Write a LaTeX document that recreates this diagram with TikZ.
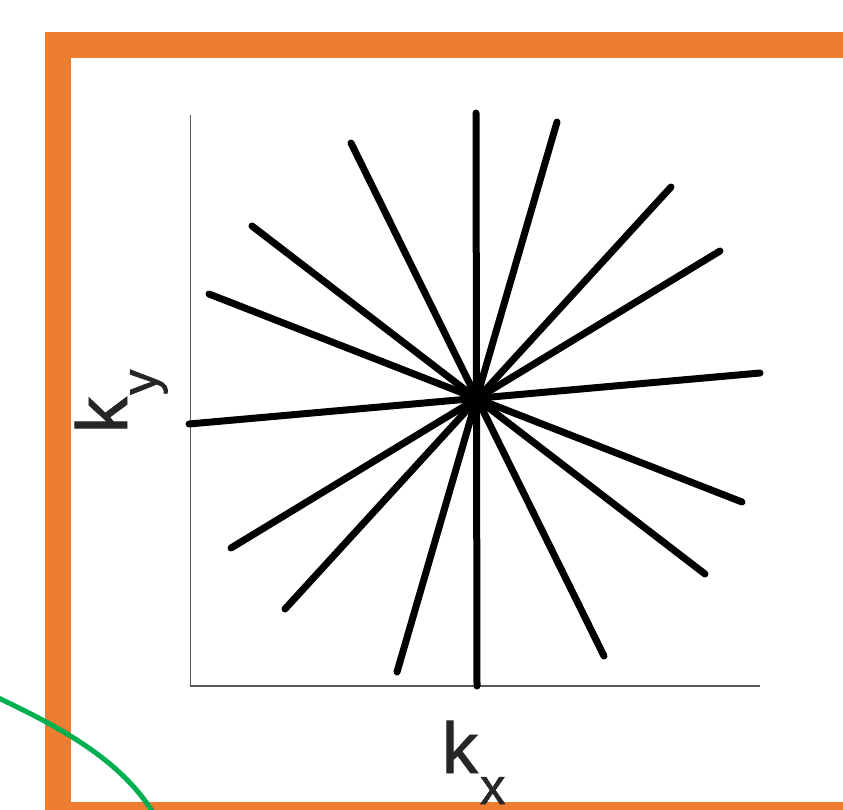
\documentclass[tikz,border=0pt]{standalone}
\usepackage{fontspec}
\setmainfont{Liberation Sans}
\newfontfamily\lblfont[FakeBold=1.2]{Liberation Sans}
\definecolor{frameorange}{HTML}{ED7D31}
\definecolor{curvegreen}{HTML}{00B050}
\definecolor{labelgray}{HTML}{262626}
\begin{document}
\begin{tikzpicture}[x=1pt,y=-1pt,
  spoke/.style={line width=7pt,line cap=round,black},
  axisline/.style={line width=1.6pt,color=black!65},
  lbl/.style={inner sep=0pt,outer sep=0pt,text=labelgray},
  bigfont/.style={font=\lblfont\fontsize{72}{72}\selectfont},
  subfont/.style={font=\lblfont\fontsize{51}{51}\selectfont}]
\useasboundingbox (0,0) rectangle (843,809);
\clip (0,0) rectangle (843,809);
% orange frame
\fill[frameorange] (45,32) rectangle (860,830);
\fill[white] (71,58) rectangle (860,802);
% green curve
\draw[curvegreen,line width=5pt] (-10,694) .. controls (60,727) and (128,762) .. (160,825);
% axes
\coordinate (ytop) at (190.5,115);
\coordinate (orig) at (190.5,686);
\coordinate (xend) at (760,686);
\draw[axisline] (ytop) -- (orig) -- (xend);
% spokes
\coordinate (a1) at (476,113); \coordinate (b1) at (477,686);
\coordinate (a2) at (557,122); \coordinate (b2) at (397,672);
\coordinate (a3) at (671,187); \coordinate (b3) at (285,609);
\coordinate (a4) at (720,251); \coordinate (b4) at (231,548);
\coordinate (a5) at (760,373); \coordinate (b5) at (189,424);
\coordinate (a6) at (742,502); \coordinate (b6) at (209,294);
\coordinate (a7) at (705,574); \coordinate (b7) at (252,226);
\coordinate (a8) at (604,656); \coordinate (b8) at (351,143);
\foreach \i in {1,...,8} {\draw[spoke] (a\i) -- (b\i);}
% labels
\node[lbl,bigfont,anchor=base west] (kx) at (442,773) {k};
\node[lbl,subfont,anchor=base west] (kxsub) at (480,804) {x};
\node[lbl,bigfont,anchor=base west,rotate=90] (ky) at (127,433) {k};
\node[lbl,subfont,anchor=base west,rotate=90] (kysub) at (157,395) {y};
\end{tikzpicture}
\end{document}
